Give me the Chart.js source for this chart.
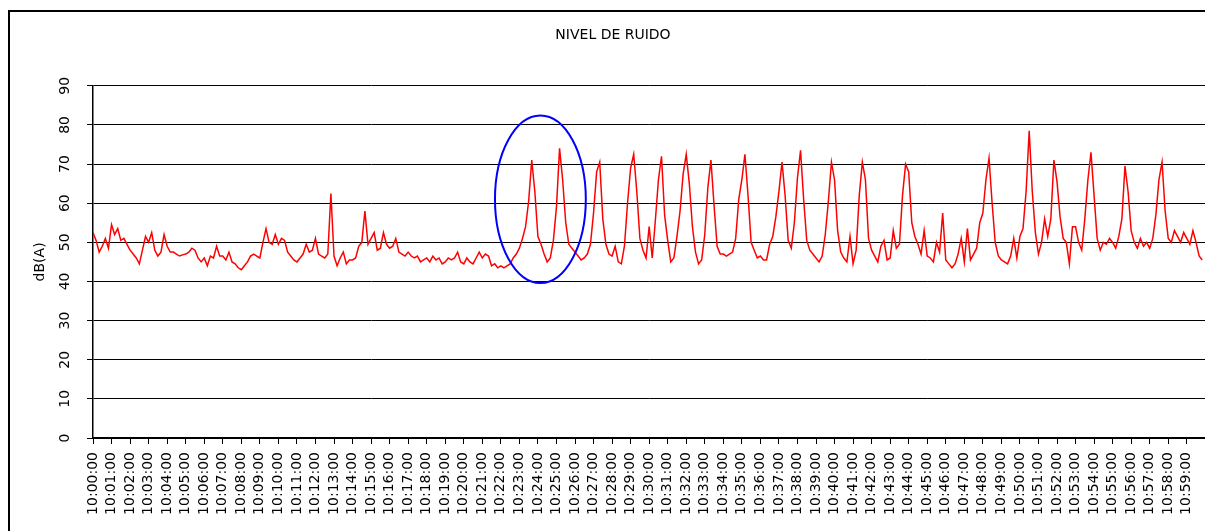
<!DOCTYPE html>
<html>
<head>
<meta charset="utf-8">
<script src="https://cdn.jsdelivr.net/npm/chart.js@4.4.1/dist/chart.umd.min.js"></script>
<style>
  html, body { margin: 0; padding: 0; background: #fff; overflow: hidden; }
  #marco { width: 1226px; height: 531px; }
</style>
</head>
<body>
<div id="marco"><canvas id="grafico" width="1226" height="531"></canvas></div>
<script>
// --- Datos: nivel de ruido en dB(A), una lectura cada 10 s (10:00:00 a 10:59:50) ---
const PASO_S = 10;

const ruido1000a1015 = [
  52.5, 50.5, 47.5, 49, 51, 48.5,   54.5, 52, 53.5, 50.5, 51, 49.5,
  48, 47, 46, 44.5, 48, 51.5,       50, 52.5, 48, 46.5, 47.5, 52,
  49, 47.5, 47.5, 47, 46.5, 46.8,   47, 47.5, 48.5, 48, 46, 45,
  46, 44, 46.5, 46, 49, 46.5,       46.5, 45.5, 47.5, 45, 44.5, 43.5,
  43, 44, 45, 46.5, 47, 46.5,       46, 50, 53.5, 50, 49.5, 52,
  49.5, 51, 50.5, 47.5, 46.5, 45.5, 45, 46, 47, 49.5, 47.5, 48,
  51, 47, 46.5, 46, 47, 62.5,       46.5, 44, 46, 47.5, 44.5, 45.5,
  45.5, 46, 49, 50, 58, 49.5
];
const ruido1015a1030 = [
  51, 52.5, 48, 48.5, 52.5, 49.5,   48.5, 49, 51, 47.5, 47, 46.5,
  47.5, 46.5, 46, 46.5, 45, 45.5,   46, 45, 46.5, 45.5, 46, 44.5,
  45, 46, 45.5, 46, 47.5, 45,       44.5, 46, 45, 44.5, 46, 47.5,
  46, 47, 46.5, 44, 44.5, 43.5,     44, 43.5, 44, 44.5, 46, 47,
  48.5, 51, 54, 60.5, 71, 63,       51.5, 49.5, 47, 45, 46, 50.5,
  59, 74, 66, 55, 49.5, 48.5,       47.5, 46.5, 45.5, 46, 47, 49.5,
  57.5, 68, 70.5, 56, 49.5, 47,     46.5, 49, 45, 44.5, 49, 60,
  69, 72.5, 63, 51, 48, 46
];
const ruido1030a1045 = [
  54, 46, 55.5, 66, 72, 57,         50.5, 45, 46, 51.5, 58, 67.5,
  72.5, 65, 54, 47.5, 44.5, 45.5,   52, 64, 71, 59.5, 49, 47,
  47, 46.5, 47, 47.5, 51, 61,       66, 72.5, 62, 50, 48, 46,
  46.5, 45.5, 45.5, 49.5, 51.5, 56.5, 63, 70.5, 62, 50.5, 48.5, 55,
  66.5, 73.5, 61, 50.5, 48, 47,     46, 45, 46.5, 52, 60.5, 70.5,
  66, 53, 47.5, 46, 45, 51.5,       44.5, 48, 62, 70.5, 66, 51,
  48, 46.5, 45, 49, 50.5, 45.5,     46, 53, 48.5, 49.5, 62, 70,
  68, 55, 51.5, 49.5, 47, 53
];
const ruido1045a1100 = [
  46.5, 46, 45, 50, 47.5, 57.5,     45.5, 44.5, 43.5, 44.5, 47, 51,
  45, 53.5, 45.5, 47, 48.5, 55,     57.5, 66, 71.5, 60, 50, 46.5,
  45.5, 45, 44.5, 46.5, 51, 46,     51.5, 53.5, 63, 78.5, 63, 52.5,
  47, 50, 56, 51.5, 56, 71,         65.5, 56.5, 51, 50, 44.5, 54,
  54, 50, 48, 56, 66, 73,           62, 51, 48, 50, 49.5, 51,
  50, 48.5, 51.5, 56, 69.5, 63,     53, 50, 48.5, 51, 49, 50,
  48.5, 51, 57, 66, 70.5, 58,       51, 50, 53, 51.5, 50, 52.5,
  51, 49.5, 53, 50, 46.5, 45.5
];

// Etiquetas del eje X (una por minuto)
const etiquetasX = [
  '10:00:00', '10:01:00', '10:02:00', '10:03:00', '10:04:00', '10:05:00',
  '10:06:00', '10:07:00', '10:08:00', '10:09:00', '10:10:00', '10:11:00',
  '10:12:00', '10:13:00', '10:14:00', '10:15:00', '10:16:00', '10:17:00',
  '10:18:00', '10:19:00', '10:20:00', '10:21:00', '10:22:00', '10:23:00',
  '10:24:00', '10:25:00', '10:26:00', '10:27:00', '10:28:00', '10:29:00',
  '10:30:00', '10:31:00', '10:32:00', '10:33:00', '10:34:00', '10:35:00',
  '10:36:00', '10:37:00', '10:38:00', '10:39:00', '10:40:00', '10:41:00',
  '10:42:00', '10:43:00', '10:44:00', '10:45:00', '10:46:00', '10:47:00',
  '10:48:00', '10:49:00', '10:50:00', '10:51:00', '10:52:00', '10:53:00',
  '10:54:00', '10:55:00', '10:56:00', '10:57:00', '10:58:00', '10:59:00'
];

// Elipse azul que marca el primer par de picos (en segundos y dB)
const elipse = { centroS: 1448, centroDb: 61, radioS: 147, radioDb: 21.4 };

const FUENTE = "'DejaVu Sans', Verdana, sans-serif";
const RELLENO_DER = 21;   // el grafico original queda cortado por la derecha

const serie = [].concat(ruido1000a1015, ruido1015a1030, ruido1030a1045, ruido1045a1100);
const puntos = serie.map((v, i) => ({ x: i * PASO_S, y: v }));

// Marco exterior, titulo centrado en el area completa y elipse azul
const extras = {
  id: 'extras',
  afterLayout(chart) {
    if (chart.titleBlock) chart.titleBlock.right += RELLENO_DER;
  },
  afterDatasetsDraw(chart) {
    const { ctx, scales: { x, y } } = chart;
    const cx = x.getPixelForValue(elipse.centroS);
    const cy = y.getPixelForValue(elipse.centroDb);
    const rx = Math.abs(x.getPixelForValue(elipse.centroS + elipse.radioS) - cx);
    const ry = Math.abs(y.getPixelForValue(elipse.centroDb + elipse.radioDb) - cy);
    ctx.save();
    ctx.strokeStyle = '#0000ff';
    ctx.lineWidth = 2;
    ctx.beginPath();
    ctx.ellipse(cx, cy, rx, ry, 0, 0, Math.PI * 2);
    ctx.stroke();
    ctx.restore();
  },
  afterDraw(chart) {
    const ctx = chart.ctx;
    ctx.save();
    ctx.strokeStyle = '#000';
    ctx.lineWidth = 2;
    ctx.strokeRect(9, 11, 1209, 540);
    ctx.restore();
  }
};

const ctx = document.getElementById('grafico').getContext('2d');
new Chart(ctx, {
  type: 'line',
  data: {
    datasets: [{
      data: puntos,
      borderColor: '#ff0000',
      borderWidth: 1.5,
      pointRadius: 0,
      tension: 0,
      fill: false
    }]
  },
  options: {
    responsive: false,
    animation: false,
    layout: { padding: { top: 27, right: RELLENO_DER, bottom: 0, left: 0 } },
    plugins: {
      legend: { display: false },
      tooltip: { enabled: false },
      title: {
        display: true,
        text: 'NIVEL DE RUIDO',
        color: '#000',
        font: { family: FUENTE, size: 14, weight: 'normal' },
        padding: { top: 0, bottom: 42 }
      }
    },
    scales: {
      x: {
        type: 'linear',
        min: 0,
        max: 3599,
        afterBuildTicks: s => { s.ticks = etiquetasX.map((_, i) => ({ value: i * 60 })); },
        afterFit: s => { s.height = 93; s.paddingLeft = 0; s.paddingRight = 0; },
        ticks: {
          autoSkip: false,
          minRotation: 90,
          maxRotation: 90,
          padding: 8,
          color: '#000',
          font: { family: FUENTE, size: 14 },
          callback: v => etiquetasX[Math.round(v / 60)]
        },
        grid: { drawOnChartArea: false, drawTicks: true, tickLength: 6, tickColor: '#000', color: '#000' },
        border: { display: true, color: '#000', width: 1.5 }
      },
      y: {
        min: 0,
        max: 90,
        afterFit: s => { s.width = 93; s.paddingTop = 0; s.paddingBottom = 0; },
        ticks: {
          stepSize: 10,
          minRotation: 90,
          maxRotation: 90,
          crossAlign: 'center',
          padding: 13,
          color: '#000',
          font: { family: FUENTE, size: 14 }
        },
        grid: { color: '#000', lineWidth: 1, drawTicks: true, tickLength: 6, tickColor: '#000' },
        border: { display: true, color: '#000', width: 1.5 },
        title: {
          display: true,
          text: 'dB(A)',
          color: '#000',
          font: { family: FUENTE, size: 14 },
          padding: { top: 32, bottom: 0 }
        }
      }
    }
  },
  plugins: [extras]
});
</script>
</body>
</html>
